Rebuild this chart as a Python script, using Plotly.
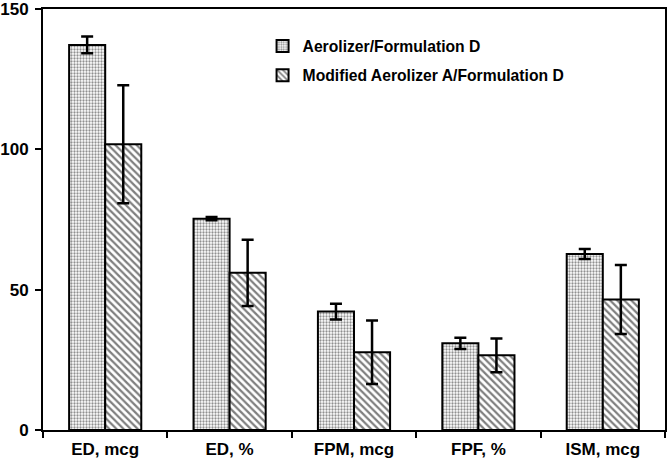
import plotly.graph_objects as go

categories = ["ED, mcg", "ED, %", "FPM, mcg", "FPF, %", "ISM, mcg"]
series_names = ["Aerolizer/Formulation D", "Modified Aerolizer A/Formulation D"]
aerolizer = [137.2, 75.3, 42.2, 30.9, 62.7]
aerolizer_err = [3.0, 0.6, 2.8, 2.0, 1.8]
modified = [101.8, 56.0, 27.7, 26.6, 46.5]
modified_err = [21.0, 11.8, 11.3, 6.0, 12.3]
y_ticks = [0, 50, 100, 150]

FONT = "Liberation Sans, Arial, sans-serif"

fig = go.Figure()
fig.add_trace(go.Bar(
    x=categories, y=aerolizer, name=series_names[0], legendgroup="a",
    error_y=dict(type="data", array=aerolizer_err, color="black", thickness=2.5, width=6),
    marker=dict(color="white", line=dict(color="black", width=2),
                pattern=dict(shape=".", size=3, solidity=0.45, fgcolor="#222222", bgcolor="white")),
))
fig.add_trace(go.Bar(
    x=categories, y=modified, name=series_names[1], legendgroup="b",
    error_y=dict(type="data", array=modified_err, color="black", thickness=2.5, width=6),
    marker=dict(color="white", line=dict(color="black", width=2),
                pattern=dict(shape="\\", size=5, solidity=0.45, fgcolor="black", bgcolor="white")),
))

fig.update_layout(
    width=667, height=462,
    margin=dict(l=43, r=2, t=9, b=32, autoexpand=False),
    paper_bgcolor="white", plot_bgcolor="white",
    barmode="group", bargap=0.42, bargroupgap=0,
    font=dict(family=FONT, color="black", size=16),
    legend=dict(x=0.353, y=0.952, xanchor="left", yanchor="top",
                font=dict(family=FONT, size=15.7, color="black", weight="bold"),
                bgcolor="rgba(0,0,0,0)", tracegroupgap=6,
                itemwidth=30),
    xaxis=dict(showline=True, linecolor="black", linewidth=2, mirror=True,
               ticks="outside", tickson="boundaries", ticklen=6, tickwidth=2,
               tickcolor="black", automargin=False, ticklabelstandoff=3,
               tickfont=dict(family=FONT, size=17, color="black", weight="bold")),
    yaxis=dict(range=[0, 150], tickvals=y_ticks, showline=True, linecolor="black",
               linewidth=2, mirror=True, ticks="outside", ticklen=6, tickwidth=2,
               tickcolor="black", showgrid=False, zeroline=False, automargin=False,
               ticklabeloverflow="allow", ticklabelstandoff=3,
               tickfont=dict(family=FONT, size=17, color="black", weight="bold")),
)

fig.write_html("out.html", config={"displayModeBar": False},
               post_script="document.body.style.margin='0';")
